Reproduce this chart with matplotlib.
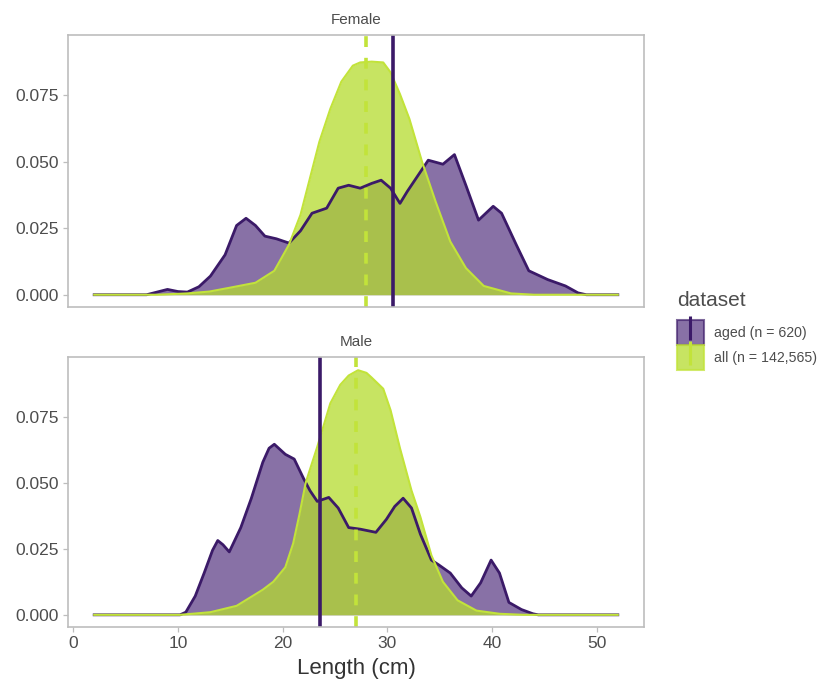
import matplotlib
matplotlib.use("Agg")
import matplotlib.pyplot as plt
from matplotlib.patches import Patch
from matplotlib.lines import Line2D
from matplotlib.legend_handler import HandlerTuple

plt.rcParams['font.family'] = ['Liberation Sans', 'DejaVu Sans']

# density curves (length in cm, density)
fem_aged_x = [2, 7, 8, 9, 10, 10.9, 12, 13.1, 14.5, 15.6, 16.5, 17.4, 18.3, 19.4, 20.6, 21.7,
              22.8, 24.2, 25.3, 26.3, 27.4, 28.5, 29.4, 30.3, 31.2, 31.9, 33.3, 33.9, 35.3,
              36.4, 37.5, 38.7, 40.1, 40.9, 42.3, 43.5, 45.3, 47.0, 48.2, 49, 52]
fem_aged_y = [0, 0, 0.001, 0.002, 0.0012, 0.001, 0.003, 0.007, 0.015, 0.026, 0.0287, 0.026,
              0.022, 0.021, 0.0194, 0.024, 0.0306, 0.0325, 0.040, 0.0411, 0.040, 0.0418,
              0.043, 0.040, 0.0343, 0.0388, 0.047, 0.0505, 0.049, 0.0526, 0.041, 0.028,
              0.0332, 0.0306, 0.0188, 0.009, 0.0057, 0.0033, 0.0007, 0, 0]

fem_all_x = [2, 8, 10.9, 13, 14.9, 17.4, 19.2, 20.6, 21.7, 22.6, 23.5, 24.55, 25.6, 26.7,
             27.4, 28.5, 29.6, 30.3, 31.2, 32.1, 33.3, 34.6, 36.0, 37.5, 39.2, 41.8, 44, 52]
fem_all_y = [0, 0, 0.0005, 0.0012, 0.0026, 0.0045, 0.009, 0.0188, 0.030, 0.0437, 0.0574,
             0.0698, 0.080, 0.086, 0.0872, 0.0875, 0.0872, 0.0835, 0.0753, 0.066, 0.050,
             0.035, 0.020, 0.010, 0.0033, 0.0005, 0, 0]

male_aged_x = [2, 10.2, 10.75, 11.65, 12.5, 13.3, 13.8, 14.3, 14.9, 16.0, 17.0, 18.1, 18.7,
               19.2, 20.25, 21.1, 22.0, 22.6, 23.3, 24.4, 25.3, 26.3, 27.4, 28.9, 29.9, 30.7,
               31.5, 32.3, 33.15, 34.2, 34.9, 36.0, 37.1, 38.0, 38.9, 39.9, 40.7, 41.6, 42.8,
               43.9, 44.4, 52]
male_aged_y = [0, 0, 0.001, 0.0071, 0.0158, 0.0244, 0.0281, 0.0265, 0.0238, 0.033, 0.044,
               0.0577, 0.063, 0.0645, 0.0607, 0.0589, 0.0515, 0.047, 0.0429, 0.0444, 0.0404,
               0.033, 0.0324, 0.0312, 0.0361, 0.041, 0.0441, 0.0404, 0.0305, 0.0207, 0.0189,
               0.0158, 0.0102, 0.0071, 0.0121, 0.0207, 0.0158, 0.0047, 0.002, 0.0004, 0, 0]

male_all_x = [2, 10.2, 13.1, 15.6, 18.1, 19.1, 20.25, 21.0, 21.6, 22.2, 23.3, 24.55, 25.5,
              26.3, 27.2, 28.0, 28.5, 29.6, 30.3, 31.2, 32.3, 33.15, 34.2, 35.3, 36.7, 38.5,
              40.7, 43, 52]
male_all_y = [0, 0, 0.001, 0.0034, 0.0095, 0.0125, 0.018, 0.027, 0.038, 0.050, 0.0635,
              0.080, 0.087, 0.0905, 0.0925, 0.0915, 0.0897, 0.0855, 0.0774, 0.063, 0.047,
              0.037, 0.0225, 0.0125, 0.0055, 0.0016, 0.0004, 0, 0]

# mean lengths (vertical lines)
mean_aged = {"Female": 30.5, "Male": 23.55}
mean_all = {"Female": 28.0, "Male": 27.0}

panels = ["Female", "Male"]
series = {
    "Female": (fem_aged_x, fem_aged_y, fem_all_x, fem_all_y),
    "Male": (male_aged_x, male_aged_y, male_all_x, male_all_y),
}
labels = ["aged (n = 620)", "all (n = 142,565)"]

aged_fill = "#482576"
aged_line = "#3b1a68"
all_fill = "#b5db2e"
all_line = "#c2e33a"
grey_txt = "#4d4d4d"

W, H = 833, 685
fig = plt.figure(figsize=(W / 100, H / 100), dpi=100)

boxes = {"Female": (68, 35, 644, 307), "Male": (68, 357, 644, 627)}

for name in panels:
    x0, y0, x1, y1 = boxes[name]
    ax = fig.add_axes([x0 / W, 1 - y1 / H, (x1 - x0) / W, (y1 - y0) / H])
    ax_x, ax_y, al_x, al_y = series[name]

    ax.fill_between(ax_x, ax_y, 0, color=aged_fill, alpha=0.65, lw=0)
    ax.plot(ax_x, ax_y, color=aged_line, lw=2.0, solid_joinstyle="round")
    ax.fill_between(al_x, al_y, 0, color=all_fill, alpha=0.75, lw=0)
    ax.plot(al_x, al_y, color=all_line, lw=1.5, solid_joinstyle="round")

    ax.axvline(mean_aged[name], color=aged_line, lw=2.6)
    ax.axvline(mean_all[name], color=all_line, lw=2.6, ls=(0, (3, 3)))

    ax.set_xlim(-0.5, 54.5)
    ax.set_ylim(-0.0046, 0.0975)
    ax.set_yticks([0, 0.025, 0.05, 0.075])
    ax.set_yticklabels(["0.000", "0.025", "0.050", "0.075"])
    ax.set_xticks([0, 10, 20, 30, 40, 50])
    for s in ax.spines.values():
        s.set_color("#bdbdbd")
        s.set_linewidth(1.2)
    ax.tick_params(colors="#bdbdbd", labelcolor=grey_txt, labelsize=12.5, length=3.5, width=0.9, pad=3)
    ax.set_title(name, fontsize=11, color=grey_txt, pad=8)
    if name == "Female":
        ax.tick_params(axis="x", bottom=False, labelbottom=False)
    else:
        ax.set_xlabel("Length (cm)", fontsize=16, color="#333333", labelpad=5)

handles = [
    (Patch(facecolor=aged_fill, alpha=0.65, edgecolor=aged_line, lw=1.5),
     Line2D([], [], color=aged_line, marker="|", ls="none", markersize=17, markeredgewidth=2.2)),
    (Patch(facecolor=all_fill, alpha=0.75, edgecolor=all_line, lw=1.5),
     Line2D([], [], color=all_line, marker="|", ls="none", markersize=17, markeredgewidth=2.2)),
]
leg = fig.legend(handles, labels, handler_map={tuple: HandlerTuple(ndivide=1, pad=0)},
                 title="dataset", loc="upper left", bbox_to_anchor=(677 / W, 1 - 291 / H),
                 frameon=False, fontsize=10.2, title_fontsize=15, handlelength=1.9,
                 handleheight=2.35, labelspacing=0.0, handletextpad=0.7, borderaxespad=0,
                 borderpad=0)
leg._legend_box.align = "left"
leg._legend_box.sep = 7
leg.get_title().set_color(grey_txt)
for t in leg.get_texts():
    t.set_color(grey_txt)

fig.savefig("out.png", dpi=100)
